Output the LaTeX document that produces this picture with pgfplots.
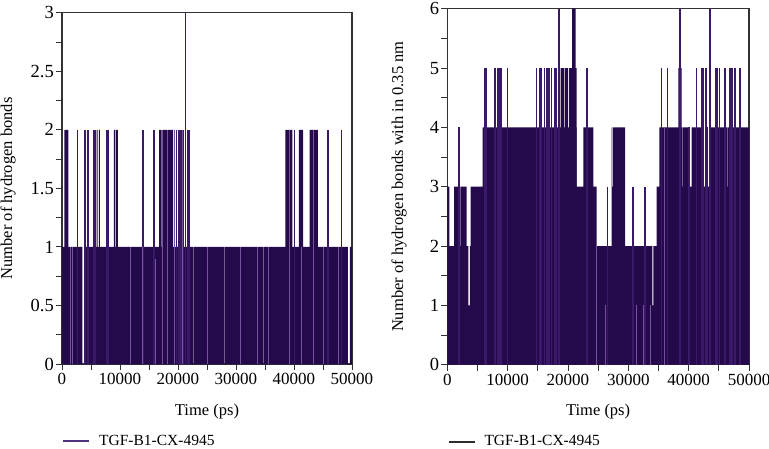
\documentclass[border=0pt]{standalone}
\usepackage{fontspec}
\setmainfont{Liberation Serif}
\usepackage{pgfplots}
\pgfplotsset{compat=1.18}
\definecolor{hbfill}{RGB}{36,10,74}
\definecolor{hbline}{RGB}{58,26,104}
\definecolor{hblight}{RGB}{120,80,160}
\definecolor{legpurple}{RGB}{80,50,130}
\definecolor{leggray}{RGB}{45,45,45}
\definecolor{axgray}{RGB}{50,50,50}
\pgfplotsset{
  hbstyle/.style={
    scale only axis,
    xmin=0, xmax=50000,
    xtick={0,10000,20000,30000,40000,50000},
    scaled x ticks=false,
    scaled y ticks=false,
    minor x tick num=1,
    tick align=outside,
    tick pos=left,
    major tick length=6pt,
    minor tick length=6pt,
    every tick/.style={axgray, line width=0.9pt},
    axis line style={axgray, line width=1.1pt},
    /pgf/number format/assume math mode=true,
    /pgf/number format/set thousands separator={},
    xticklabel style={font=\fontsize{17}{17}\selectfont},
    yticklabel style={font=\fontsize{18.5}{18.5}\selectfont, inner xsep=2pt},
    label style={font=\fontsize{16.5}{18}\selectfont},
    xlabel={Time (ps)},
    legend style={draw=none, fill=none, font=\fontsize{15.5}{16}\selectfont, inner sep=0pt, legend cell align=left},
    clip=true,
  }
}
\begin{document}
\begin{tikzpicture}[x=1pt,y=1pt]
% ---------------- Left panel ----------------
\begin{axis}[hbstyle,
  at={(62pt,84pt)}, anchor=south west,
  width=290pt, height=351.3pt,
  ymin=0, ymax=3,
  ytick={0,0.5,1,1.5,2,2.5,3},
  yticklabels={0,0.5,1,1.5,2,2.5,3},
  minor y tick num=1,
  ylabel={Number of hydrogen bonds},
  ylabel style={at={(axis description cs:-0.186,0.5)}, anchor=center},
  xlabel style={at={(axis description cs:0.5,-0.134)}, anchor=center},
  legend style={at={(axis description cs:0,-0.220)}, anchor=west},
  legend image code/.code={\draw[line width=2pt, color=legpurple] (0pt,0pt) -- (26pt,0pt);},
]
\addlegendimage{legpurple}
\addlegendentry{\hspace{7pt}TGF-B1-CX-4945}
% base level (dense oscillation 0-1)
\addplot[const plot, fill=hbfill, draw=none, forget plot] table {
x y
0 1
3500 0
3900 1
22560 0
22660 1
28020 0
28120 1
34620 0
34720 1
49300 0
49650 1
50000 1
} \closedcycle;
% dense bands at level 2
\addplot[const plot, fill=hbfill, draw=none, forget plot] table {
x y
0 0
400 2
1090 0
5970 2
6150 0
6350 2
6540 0
8950 2
9200 0
9350 2
9640 0
16760 2
17170 0
17440 2
18100 0
18200 2
19170 0
38520 2
39730 0
40860 2
41560 0
42710 2
44130 0
50000 0
} \closedcycle;
% isolated transitions
\addplot[ycomb, hbline, line width=1.6pt, forget plot] table {
x y
2700 2
4000 2
4450 2
5450 2
5650 2
7750 2
8050 2
14000 2
15900 2
19750 2
20150 2
20490 2
20890 2
21640 2
21920 2
40100 2
45860 2
48160 2
};
\addplot[ycomb, hbline, line width=1.2pt, forget plot] table {
x y
21250 3
};
% lighter lines
\addplot[ycomb, hblight, line width=0.5pt, forget plot] table {
x y
1450 1
1750 1
11760 1
13770 1
16100 0.9
17300 2
18150 2
19400 2
20700 2
25000 1
30800 1
33700 1
35500 1
39100 2
41200 1
43400 2
45000 1
47600 1
};
\end{axis}
% ---------------- Right panel ----------------
\begin{axis}[hbstyle,
  at={(447.3pt,83.3pt)}, anchor=south west,
  width=301.7pt, height=356pt,
  ymin=0, ymax=6,
  ytick={0,1,2,3,4,5,6},
  minor y tick num=1,
  ylabel={Number of hydrogen bonds with in 0.35 nm},
  ylabel style={at={(axis description cs:-0.160,0.5)}, anchor=center},
  xlabel style={at={(axis description cs:0.5,-0.132)}, anchor=center},
  legend style={at={(axis description cs:0,-0.216)}, anchor=west},
  legend image code/.code={\draw[line width=2pt, color=leggray] (0pt,0pt) -- (26pt,0pt);},
]
\addlegendimage{leggray}
\addlegendentry{\hspace{7pt}TGF-B1-CX-4945}
\addplot[const plot, fill=hbfill, draw=none, forget plot] table {
x y
0 3
330 2
1110 3
2050 2
2180 3
3210 2
3480 1
3760 2
3870 3
5860 4
21440 3
22540 4
24200 3
24750 2
27240 4
27300 3
27450 4
29450 2
34000 1
34150 2
34700 3
35130 4
38900 3
39000 4
39900 3
40500 4
42500 3
43400 4
44700 3
44800 4
46350 3
46430 4
50000 4
} \closedcycle;
% bands at level 5 and 6
\addplot[const plot, fill=hbfill, draw=none, forget plot] table {
x y
0 0
18800 5
19300 0
19450 5
20000 0
20150 5
21440 0
38280 5
38840 0
50000 0
} \closedcycle;
\addplot[const plot, fill=hbfill, draw=none, forget plot] table {
x y
0 0
20700 6
21250 0
50000 0
} \closedcycle;
\addplot[ycomb, hbline, line width=1.6pt, forget plot] table {
x y
6250 5
6520 5
7790 5
8020 5
8300 5
8460 5
8680 5
8900 5
10000 5
14810 5
15360 5
15640 5
16100 5
16500 5
16850 5
17300 5
17850 5
18130 5
18560 6
23150 5
35520 5
36520 5
38560 6
41330 5
42150 5
42400 5
42870 5
43530 6
44520 5
44800 5
45100 5
46020 5
46840 5
47050 5
47290 5
47670 5
48500 5
1900 4
40100 4
43000 4
26570 3
30820 3
32760 3
};
\addplot[ycomb, hblight, line width=0.5pt, forget plot] table {
x y
24750 2
26130 1
31380 1
32480 1
33590 1
36000 4
};
\end{axis}
\pgfresetboundingbox
\path[use as bounding box] (0pt,0pt) rectangle (769pt,448pt);
\end{tikzpicture}
\end{document}
